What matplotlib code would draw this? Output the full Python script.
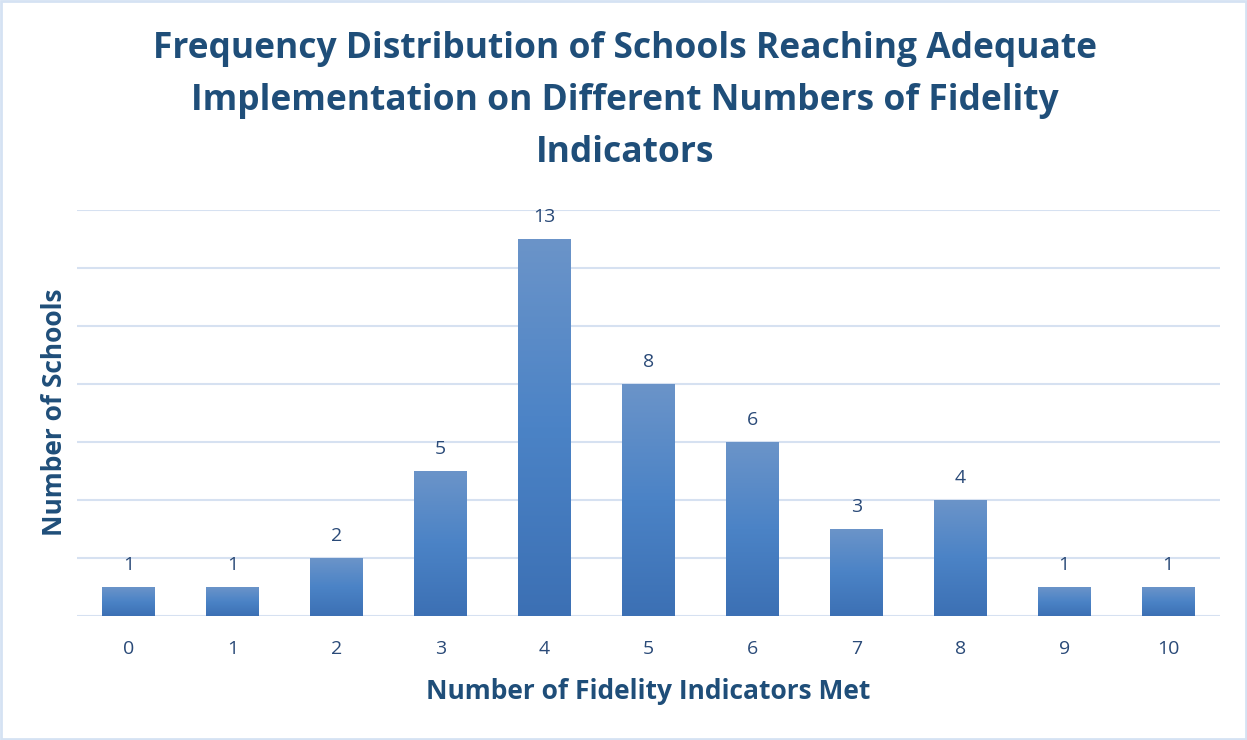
import numpy as np
import matplotlib
matplotlib.use("Agg")
import matplotlib.pyplot as plt
from matplotlib.colors import LinearSegmentedColormap
from matplotlib.patches import Rectangle

# data
indicators = [0, 1, 2, 3, 4, 5, 6, 7, 8, 9, 10]
schools = [1, 1, 2, 5, 13, 8, 6, 3, 4, 1, 1]

title = ("Frequency Distribution of Schools Reaching Adequate\n"
         "Implementation on Different Numbers of Fidelity\nIndicators")

plt.rcParams['font.family'] = ['Open Sans', 'DejaVu Sans']

dark_blue = "#1f4e79"
text_blue = "#2a4a78"
grid_col = "#d6e1f1"

fig = plt.figure(figsize=(12.47, 7.4), dpi=100)
ax = fig.add_axes([77 / 1247, 124 / 740, (1220 - 77) / 1247, (616 - 210) / 740])

# border around the chart
fig.patches.append(Rectangle((0.001, 0.001), 0.998, 0.998, transform=fig.transFigure,
                             fill=False, edgecolor="#d5e2f3", linewidth=2))

cmap = LinearSegmentedColormap.from_list("bar", ["#3c70b4", "#4b83c6", "#6b94c9"])
grad = np.linspace(0, 1, 256).reshape(-1, 1)

bars = ax.bar(indicators, schools, width=0.51, color="none", zorder=3)
for b in bars:
    x0, w, h = b.get_x(), b.get_width(), b.get_height()
    im = ax.imshow(grad, extent=[x0, x0 + w, 0, h], origin="lower", cmap=cmap,
                   aspect="auto", zorder=3)
    im.set_clip_path(b)
    ax.text(x0 + w / 2, h + 0.45, str(h), ha="center", va="bottom",
            fontsize=14, color=text_blue)

ax.set_xlim(-0.5, 10.5)
ax.set_ylim(0, 14)
ax.set_yticks(np.arange(0, 15, 2))
ax.set_yticklabels([])
ax.yaxis.grid(True, color=grid_col, linewidth=1.5, zorder=0)
ax.set_axisbelow(True)
ax.tick_params(axis="both", length=0)
ax.set_xticks(indicators)
ax.set_xticklabels([str(i) for i in indicators], fontsize=14, color=text_blue)
ax.tick_params(axis="x", pad=17)
for s in ax.spines.values():
    s.set_visible(False)

ax.set_xlabel("Number of Fidelity Indicators Met", fontsize=19, fontweight="bold",
              color=dark_blue, labelpad=15)
fig.text(55 / 1247, 1 - 412 / 740, "Number of Schools", rotation=90, ha="center",
         va="center", fontsize=19, fontweight="bold", color=dark_blue)
fig.text(625 / 1247, 1 - 101 / 740, title, ha="center", va="center", fontsize=25.5,
         fontweight="bold", color=dark_blue, linespacing=1.58)

fig.savefig("out.png", dpi=100, facecolor="white")
